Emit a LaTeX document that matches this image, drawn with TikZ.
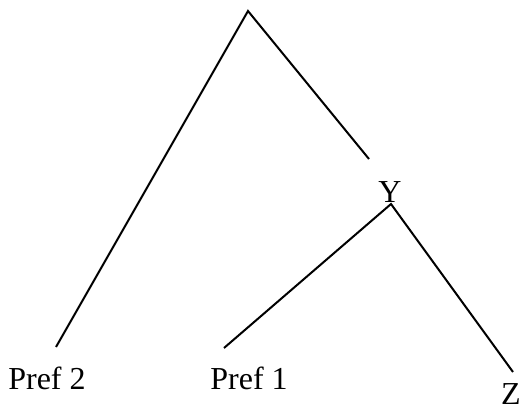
\documentclass[tikz,border=0pt]{standalone}
\usepackage{fontspec}
\setmainfont{Liberation Serif}
\usetikzlibrary{positioning}

\begin{document}
\begin{tikzpicture}[x=1pt,y=-1pt,line width=2pt,
    leaf/.style={anchor=base,inner sep=0pt,font=\fontsize{32}{38}\selectfont}]
  \useasboundingbox (0,0) rectangle (523,412);
  \coordinate (root) at (248,11);
  \coordinate (toy) at (369,159);
  \coordinate (fromy) at (391,204);
  \coordinate (endpref2) at (56,347);
  \coordinate (endpref1) at (224,348);
  \coordinate (endz) at (513,372);
  \node[leaf] (y) at (390,202) {Y};
  \node[leaf] (pref2) at (47,389) {Pref 2};
  \node[leaf] (pref1) at (249,389) {Pref 1};
  \node[leaf] (z) at (511,404) {Z};
  \draw (endpref2) -- (root) -- (toy);
  \draw (endpref1) -- (fromy) -- (endz);
\end{tikzpicture}
\end{document}
